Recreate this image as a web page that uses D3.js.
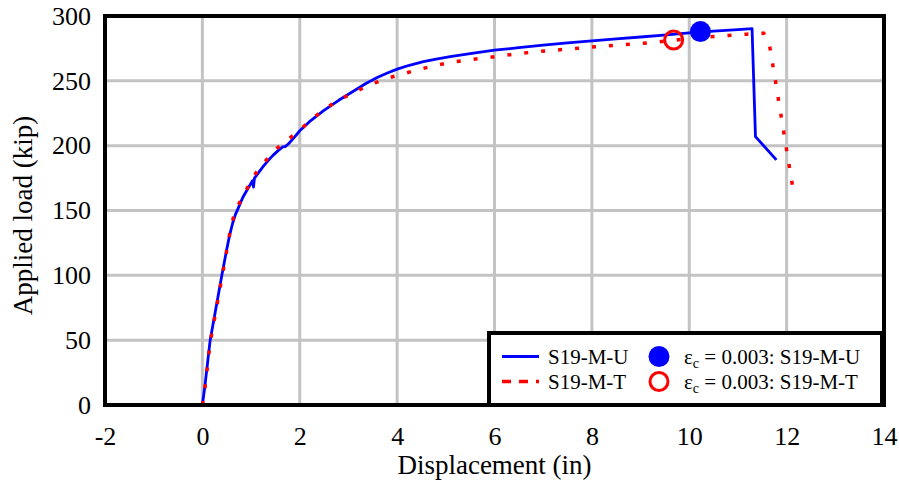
<!DOCTYPE html>
<html>
<head>
<meta charset="utf-8">
<script src="https://cdn.jsdelivr.net/npm/d3@7"></script>
<style>
  html, body { margin: 0; padding: 0; background: #fff; }
  svg { display: block; }
  text { font-family: "Liberation Serif", "Times New Roman", serif; fill: #000; }
</style>
</head>
<body>
<svg id="chart" width="899" height="484"></svg>
<script>
// ---- Data ----
const seriesNames = ["S19-M-U", "S19-M-T"];
const markerLabels = ["0.003: S19-M-U", "0.003: S19-M-T"];

const uDisp = [0, 0.05, 0.16, 0.28, 0.40, 0.50, 0.56, 0.62, 0.68, 0.75, 0.83, 0.92, 1.0, 1.03, 1.05, 1.07, 1.15, 1.25, 1.35, 1.45, 1.55, 1.65, 1.70, 1.77, 1.88, 2.0, 2.2, 2.49, 2.8, 3.1, 3.35, 3.59, 3.8, 4.0, 4.25, 4.54, 4.8, 5.09, 5.5, 6.0, 6.5, 7.0, 7.5, 8.0, 8.5, 9.0, 9.54, 10.0, 10.5, 11.0, 11.29, 11.36, 11.79];
const uLoad = [0, 14, 50, 75, 100, 120, 131, 140, 147, 153, 160, 166, 171, 173, 168, 175, 179, 184, 188.5, 192.5, 196, 199, 199.3, 201.5, 206, 211.5, 218.5, 227, 235, 242, 247.8, 252.5, 256, 259, 262, 264.8, 266.8, 268.6, 271, 273.6, 275.6, 277.5, 279.2, 280.8, 282.3, 283.8, 285.4, 287, 288.3, 289.5, 290.2, 207, 189];

const tDisp = [0, 0.05, 0.16, 0.40, 0.58, 0.66, 0.75, 0.83, 0.92, 1.0, 1.12, 1.25, 1.40, 1.55, 1.67, 1.8, 2.0, 2.25, 2.5, 2.75, 3.0, 3.25, 3.45, 3.75, 4.13, 4.45, 4.82, 5.16, 5.5, 5.88, 6.4, 6.94, 7.5, 8.0, 8.5, 9.06, 9.74, 10.3, 10.8, 11.18, 11.53, 11.65, 11.77, 11.99, 12.12];
const tLoad = [0, 12, 48, 98, 136, 148, 155, 161, 167, 173, 180, 186, 193, 198.5, 202, 206, 212, 220.5, 228, 234, 239, 243.5, 247, 251.5, 255.5, 258.8, 262.2, 264.6, 266.3, 268, 270.5, 272.8, 274.4, 276, 277.5, 279, 281.5, 283.5, 285, 286, 286.7, 277, 250, 199, 169];

// strain 0.003 markers: [displacement, load]
const uMarker = [10.23, 288];
const tMarker = [9.68, 281.5];

const xTicks = [-2, 0, 2, 4, 6, 8, 10, 12, 14];
const yTicks = [0, 50, 100, 150, 200, 250, 300];

// ---- Layout ----
const svg = d3.select("#chart");
const L = 105, R = 884, T = 16, B = 405;
const x = d3.scaleLinear().domain([-2, 14]).range([L, R]);
const y = d3.scaleLinear().domain([0, 300]).range([B, T]);

// gridlines
const grid = svg.append("g");
grid.selectAll("line.vx").data(xTicks).join("line")
  .attr("x1", d => x(d)).attr("x2", d => x(d)).attr("y1", T).attr("y2", B)
  .attr("stroke", "#c3c3c3").attr("stroke-width", 3);
grid.selectAll("line.hy").data(yTicks).join("line")
  .attr("y1", d => y(d)).attr("y2", d => y(d)).attr("x1", L).attr("x2", R)
  .attr("stroke", "#c3c3c3").attr("stroke-width", 3);

// axes (labels only)
const fmt = d => String(d);
const xAxis = svg.append("g").attr("transform", `translate(0,${B})`)
  .call(d3.axisBottom(x).tickValues(xTicks).tickSize(0).tickPadding(22).tickFormat(fmt));
xAxis.select(".domain").remove();
xAxis.selectAll("text").style("font-size", "26px").style("font-family", "Liberation Serif");

const yAxis = svg.append("g").attr("transform", `translate(${L},0)`)
  .call(d3.axisLeft(y).tickValues(yTicks).tickSize(0).tickPadding(14).tickFormat(fmt));
yAxis.select(".domain").remove();
yAxis.selectAll("text").style("font-size", "26px").style("font-family", "Liberation Serif");

// lines
const line = d3.line().x(d => x(d[0])).y(d => y(d[1]));
const uData = uDisp.map((d, i) => [d, uLoad[i]]);
const tData = tDisp.map((d, i) => [d, tLoad[i]]);

svg.append("path").datum(uData).attr("d", line)
  .attr("fill", "none").attr("stroke", "#0000ff").attr("stroke-width", 2.8)
  .attr("stroke-linejoin", "round");
svg.append("path").datum(tData).attr("d", line)
  .attr("fill", "none").attr("stroke", "#ff0000").attr("stroke-width", 3.5)
  .attr("stroke-dasharray", "4,13");

// markers
svg.append("circle").attr("cx", x(uMarker[0])).attr("cy", y(uMarker[1])).attr("r", 10.5)
  .attr("fill", "#0000ff");
svg.append("circle").attr("cx", x(tMarker[0])).attr("cy", y(tMarker[1])).attr("r", 9)
  .attr("fill", "none").attr("stroke", "#ff0000").attr("stroke-width", 3);

// frame
svg.append("rect").attr("x", L).attr("y", T).attr("width", R - L).attr("height", B - T)
  .attr("fill", "none").attr("stroke", "#000").attr("stroke-width", 4);

// axis titles
svg.append("text").attr("x", (L + R) / 2).attr("y", 474).attr("text-anchor", "middle")
  .style("font-size", "27px").text("Displacement (in)");
svg.append("text").attr("transform", `translate(32,${(T + B) / 2 + 5}) rotate(-90)`)
  .attr("text-anchor", "middle").style("font-size", "27px").text("Applied load (kip)");

// legend
const lg = svg.append("g");
lg.append("rect").attr("x", 489).attr("y", 333).attr("width", 393).attr("height", 72)
  .attr("fill", "#fff").attr("stroke", "#000").attr("stroke-width", 4);
const rows = [356.5, 381.5];
lg.append("line").attr("x1", 502).attr("x2", 539).attr("y1", rows[0]).attr("y2", rows[0])
  .attr("stroke", "#0000ff").attr("stroke-width", 2.8);
lg.append("line").attr("x1", 502).attr("x2", 539).attr("y1", rows[1]).attr("y2", rows[1])
  .attr("stroke", "#ff0000").attr("stroke-width", 3.5).attr("stroke-dasharray", "9,8");
seriesNames.forEach((s, i) => {
  lg.append("text").attr("x", 548).attr("y", rows[i] + 7.5).style("font-size", "21px").text(s);
});
lg.append("circle").attr("cx", 659).attr("cy", rows[0]).attr("r", 10.5).attr("fill", "#0000ff");
lg.append("circle").attr("cx", 659).attr("cy", rows[1]).attr("r", 9)
  .attr("fill", "none").attr("stroke", "#ff0000").attr("stroke-width", 3);
markerLabels.forEach((s, i) => {
  const t = lg.append("text").attr("x", 684).attr("y", rows[i] + 7.5).style("font-size", "21px");
  t.append("tspan").text("ε");
  t.append("tspan").attr("dy", 4).style("font-size", "14px").text("c");
  t.append("tspan").attr("dy", -4).text(" = " + s);
});
</script>
</body>
</html>
